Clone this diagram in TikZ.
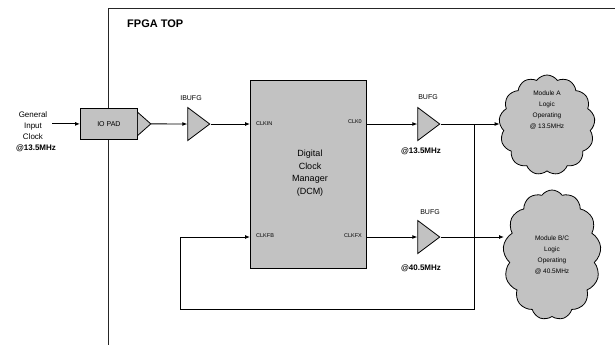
\documentclass[tikz,border=0pt]{standalone}
\usepackage{fontspec}
\setmainfont{Liberation Sans}
\usetikzlibrary{shapes.geometric,shapes.symbols,arrows.meta}
\begin{document}
\begin{tikzpicture}[x=1pt,y=-1pt,
  font=\fontsize{7}{8.5}\selectfont,
  blk/.style={draw, fill=black!24, line width=0.8pt, inner sep=0pt},
  buf/.style={draw, fill=black!24, line width=0.8pt, isosceles triangle, isosceles triangle stretches, minimum width=33pt, minimum height=22pt, inner sep=0pt},
  conn/.style={line width=0.9pt, -{Latex[length=5pt,width=4pt]}},
  frame/.style={line width=0.7pt, draw=black!85},
  port/.style={font=\fontsize{5.5}{6}\selectfont, inner sep=0pt},
  lbl/.style={font=\fontsize{7}{8}\selectfont, inner sep=0pt},
  freq/.style={font=\bfseries\fontsize{8}{9}\selectfont, inner sep=0pt},
  cld/.style={draw, fill=black!24, line width=0.8pt, cloud, cloud puffs=13, cloud puff arc=110, cloud ignores aspect, inner sep=0pt},
  cldtxt/.style={align=center, inner sep=0pt, font=\fontsize{6.5}{11}\selectfont}
]
\useasboundingbox (0,0) rectangle (615,349);
% frame
\coordinate (frTR) at (615,8);
\coordinate (frTL) at (108,8);
\coordinate (frBL) at (108,345);
\draw[frame] (frTR) -- (frTL) -- (frBL);
\node[anchor=west, inner sep=0pt, font=\bfseries\fontsize{11}{13}\selectfont] (title) at (127,24) {FPGA TOP};
% input
\node[align=center, inner sep=1pt, font=\fontsize{8}{11}\selectfont] (gen) at (33,126) {General\\Input\\Clock};
\node[freq] (genf) at (36,148) {@13.5MHz};
% IO pad
\node[blk, minimum width=57pt, minimum height=31pt, anchor=north west, font=\fontsize{7}{8}\selectfont] (iopad) at (80,108) {IO PAD};
\coordinate (padout) at ([xshift=13pt]iopad.east);
\draw[blk] ([yshift=11.5pt]iopad.east) -- (padout) -- ([yshift=-11.5pt]iopad.east);
% buffers
\node[buf] (ibufg) at (196,124) {};
\node[lbl] (ibufgl) at (191,98) {IBUFG};
\node[buf] (bufga) at (426,124) {};
\node[lbl] (bufgal) at (428,97) {BUFG};
\node[freq] (bufgaf) at (421,151) {@13.5MHz};
\node[buf] (bufgb) at (426,237) {};
\node[lbl] (bufgbl) at (430,212) {BUFG};
\node[freq] (bufgbf) at (421,268) {@40.5MHz};
% DCM
\node[blk, minimum width=116pt, minimum height=188pt, anchor=north west] (dcm) at (250,80) {};
\node[align=center, inner sep=0pt, font=\fontsize{9}{12.5}\selectfont] (dcmt) at (310,173) {Digital\\Clock\\Manager\\(DCM)};
\node[port, anchor=west] (clkin) at (256,124) {CLKIN};
\node[port, anchor=east] (clk0) at (362,122) {CLK0};
\node[port, anchor=west] (clkfb) at (256,236) {CLKFB};
\node[port, anchor=east] (clkfx) at (362,236) {CLKFX};
% clouds
\node[cld, minimum width=96pt, minimum height=100pt] (cloudA) at (547,125) {};
\node[cldtxt] (cloudAt) at (547,110) {Module A\\Logic\\Operating\\@ 13.5MHz};
\node[cld, minimum width=98pt, minimum height=130pt] (cloudB) at (552,255) {};
\node[cldtxt] (cloudBt) at (552,255) {Module B/C\\Logic\\Operating\\@ 40.5MHz};
% connectors
\draw[conn] ([xshift=4pt]gen.east |- iopad.west) -- (iopad.west);
\draw[conn] (padout) -- (ibufg.west);
\draw[conn] (ibufg.apex) -- (ibufg.apex -| dcm.west);
\draw[conn] (bufga.west -| dcm.east) -- (bufga.west);
\draw[conn] (bufga.apex) -- (bufga.apex -| cloudA.west);
\draw[conn] (bufgb.west -| dcm.east) -- (bufgb.west);
\draw[conn] (bufgb.apex) -- (bufgb.apex -| cloudB.west);
\coordinate (junc) at (474,124);
\coordinate (fbbot) at (180,309);
\draw[conn] (junc) |- (fbbot) |- (dcm.west |- bufgb.west);
\end{tikzpicture}
\end{document}
